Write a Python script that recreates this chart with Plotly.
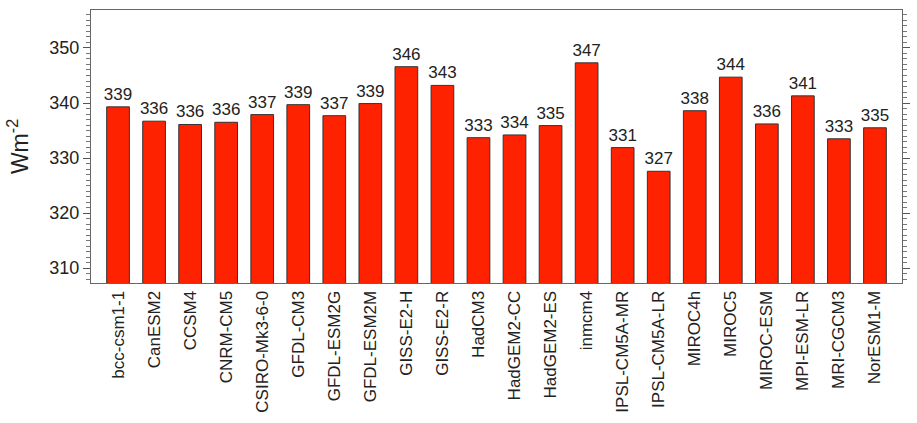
import math
import plotly.graph_objects as go

# CMIP5 models and their global-mean surface flux (W m-2)
models = [
    "bcc-csm1-1", "CanESM2", "CCSM4", "CNRM-CM5", "CSIRO-Mk3-6-0",
    "GFDL-CM3", "GFDL-ESM2G", "GFDL-ESM2M", "GISS-E2-H", "GISS-E2-R",
    "HadCM3", "HadGEM2-CC", "HadGEM2-ES", "inmcm4", "IPSL-CM5A-MR",
    "IPSL-CM5A-LR", "MIROC4h", "MIROC5", "MIROC-ESM", "MPI-ESM-LR",
    "MRI-CGCM3", "NorESM1-M",
]
flux = [
    339.3, 336.7, 336.1, 336.5, 337.9,
    339.7, 337.7, 339.9, 346.6, 343.2,
    333.7, 334.2, 335.9, 347.3, 331.9,
    327.6, 338.6, 344.7, 336.2, 341.3,
    333.5, 335.5,
]
# value labels show the whole-number part of each flux
labels = [str(int(math.floor(v))) for v in flux]

FONT = "Liberation Sans, Arial, Helvetica, sans-serif"

fig = go.Figure(
    go.Bar(
        x=models,
        y=flux,
        text=labels,
        textposition="outside",
        constraintext="none",
        cliponaxis=False,
        textfont=dict(family=FONT, size=17, color="#222"),
        marker=dict(color="#FF2200", line=dict(color="#333", width=1)),
        width=0.63,
    )
)

fig.update_layout(
    width=917,
    height=423,
    margin=dict(l=91, r=7, t=10, b=140),
    paper_bgcolor="white",
    plot_bgcolor="white",
    showlegend=False,
    font=dict(family=FONT, color="#222"),
)

fig.update_xaxes(
    range=[-0.75, len(models) - 0.25],
    tickangle=-90,
    tickfont=dict(family=FONT, size=17, color="#222"),
    showline=True,
    linecolor="#666",
    linewidth=1,
    mirror=True,
    ticks="",
    showgrid=False,
)

fig.update_yaxes(
    range=[307.3, 356.9],
    tickvals=[310, 320, 330, 340, 350],
    tickfont=dict(family=FONT, size=18, color="#222"),
    ticks="outside",
    ticklen=7,
    tickcolor="#555",
    minor=dict(dtick=1, ticks="outside", ticklen=4, tickcolor="#777", showgrid=False),
    showline=True,
    linecolor="#666",
    linewidth=1,
    mirror="allticks",
    showgrid=False,
    zeroline=False,
    title=dict(text="Wm<sup>-2</sup>", font=dict(family=FONT, size=23, color="#222"), standoff=14),
)

fig.write_html("out.html")
